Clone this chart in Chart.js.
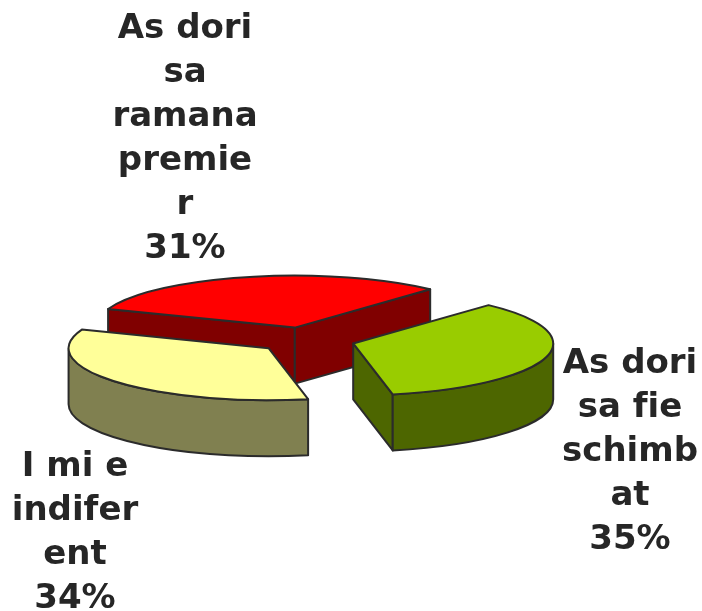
<!DOCTYPE html>
<html>
<head>
<meta charset="utf-8">
<style>html,body{margin:0;padding:0;background:#fff}canvas{display:block}</style>
<script src="https://cdn.jsdelivr.net/npm/chart.js@4/dist/chart.umd.min.js"></script>
</head>
<body>
<canvas id="c" width="702" height="611"></canvas>
<script>
const categories = ["As dori sa ramana premier", "As dori sa fie schimbat", "Imi e indiferent"];
const values = [31, 35, 34];
const wrappedLabels = [
  ["As dori", "sa", "ramana", "premie", "r"],
  ["As dori", "sa fie", "schimb", "at"],
  ["I mi e", "indifer", "ent"]
];
const topColors = ["#FF0000", "#99CC00", "#FFFF99"];
const wallColors = ["#800000", "#4D6600", "#808050"];

const SQUASH = 0.26, DEPTH = 56, EXPLODE = 49, OUTLINE = "#2b2b2b";
const drawOrder = [0, 2, 1];
const labelAnchors = [{x: 185, y: 38}, {x: 630, y: 373}, {x: 75, y: 476}];
const LINE_PITCH = 44;

const pie3d = {
  id: "pie3d",
  beforeDatasetDraw(chart) {
    const ctx = chart.ctx, arcs = chart.getDatasetMeta(0).data;
    const total = values.reduce((a, b) => a + b, 0);
    const face = (fill, build) => {
      ctx.beginPath(); build(); ctx.closePath();
      ctx.fillStyle = fill; ctx.fill();
      ctx.lineJoin = "round"; ctx.lineWidth = 2; ctx.strokeStyle = OUTLINE; ctx.stroke();
    };
    drawOrder.forEach(i => {
      const a = arcs[i], s = a.startAngle, e = a.endAngle, r = a.outerRadius, ry = r * SQUASH;
      const mid = (s + e) / 2;
      const x = a.x + Math.cos(mid) * EXPLODE, y = a.y + Math.sin(mid) * EXPLODE * SQUASH;
      const px = t => x + Math.cos(t) * r, py = t => y + Math.sin(t) * ry;
      if (-Math.cos(s) > 0) face(wallColors[i], () => {
        ctx.moveTo(x, y); ctx.lineTo(px(s), py(s)); ctx.lineTo(px(s), py(s) + DEPTH); ctx.lineTo(x, y + DEPTH);
      });
      if (Math.cos(e) > 0) face(wallColors[i], () => {
        ctx.moveTo(x, y); ctx.lineTo(px(e), py(e)); ctx.lineTo(px(e), py(e) + DEPTH); ctx.lineTo(x, y + DEPTH);
      });
      const a0 = Math.max(s, 0), a1 = Math.min(e, Math.PI);
      if (a1 > a0) face(wallColors[i], () => {
        ctx.ellipse(x, y, r, ry, 0, a0, a1);
        ctx.ellipse(x, y + DEPTH, r, ry, 0, a1, a0, true);
      });
      face(topColors[i], () => {
        ctx.moveTo(x, y);
        ctx.ellipse(x, y, r, ry, 0, s, e);
      });
    });
    ctx.save();
    ctx.fillStyle = "#262626";
    ctx.font = "bold 34px 'DejaVu Sans'";
    ctx.textRendering = "optimizeSpeed";
    ctx.textAlign = "center";
    ctx.textBaseline = "alphabetic";
    wrappedLabels.forEach((lines, i) => {
      const pct = Math.round(values[i] / total * 100) + "%";
      lines.concat([pct]).forEach((t, k) => ctx.fillText(t, labelAnchors[i].x, labelAnchors[i].y + k * LINE_PITCH));
    });
    ctx.restore();
    return false;
  }
};

new Chart(document.getElementById("c"), {
  type: "pie",
  data: {
    labels: categories,
    datasets: [{ data: values, backgroundColor: topColors, borderWidth: 0 }]
  },
  options: {
    responsive: false,
    animation: false,
    rotation: -69,
    radius: 200,
    layout: { padding: { left: 0, right: 90, top: 69, bottom: 0 } },
    plugins: { legend: { display: false }, tooltip: { enabled: false }, title: { display: false } }
  },
  plugins: [pie3d]
});
</script>
</body>
</html>
